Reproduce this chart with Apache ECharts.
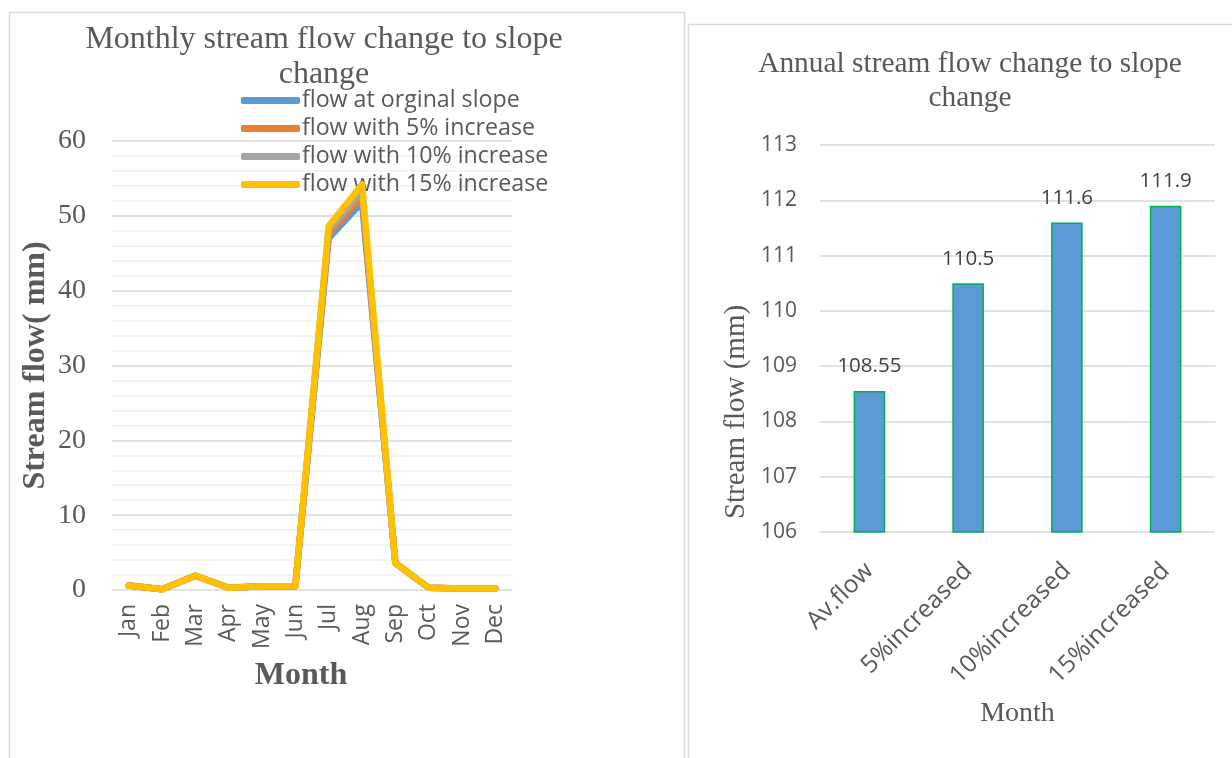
<!DOCTYPE html>
<html>
<head>
<meta charset="utf-8">
<script src="https://cdn.jsdelivr.net/npm/echarts@6/dist/echarts.min.js"></script>
<style>
  html, body { margin: 0; padding: 0; background: #ffffff; }
  #chart { width: 1232px; height: 758px; }
</style>
</head>
<body>
<div id="chart"></div>
<script>
// Monthly stream flow (mm) under the original slope and three slope increases
const months = ['Jan', 'Feb', 'Mar', 'Apr', 'May', 'Jun', 'Jul', 'Aug', 'Sep', 'Oct', 'Nov', 'Dec'];
const flowOriginal = [0.6, 0.1, 1.9, 0.3, 0.5, 0.5, 47.0, 51.8, 3.6, 0.3, 0.2, 0.2];
const flow5 = [0.6, 0.1, 1.9, 0.3, 0.5, 0.5, 47.6, 52.6, 3.6, 0.3, 0.2, 0.2];
const flow10 = [0.6, 0.1, 1.9, 0.3, 0.5, 0.5, 48.1, 53.4, 3.6, 0.3, 0.2, 0.2];
const flow15 = [0.6, 0.1, 1.9, 0.3, 0.5, 0.5, 48.6, 54.2, 3.6, 0.3, 0.2, 0.2];
const seriesNames = ['flow at orginal slope', 'flow with 5% increase', 'flow with 10% increase', 'flow with 15% increase'];

// Annual stream flow (mm)
const scenarios = ['Av.flow', '5%increased', '10%increased', '15%increased'];
const annualFlow = [108.55, 110.5, 111.6, 111.9];

const SERIF = '"Liberation Serif", "Times New Roman", serif';
const SANS = '"Open Sans", "Liberation Sans", sans-serif';
const TXT = '#595959';

const chart = echarts.init(document.getElementById('chart'), null, { renderer: 'canvas' });

const lineColors = ['#5B9BD5', '#ED7D31', '#A5A5A5', '#FFC000'];
const lineData = [flowOriginal, flow5, flow10, flow15];

chart.setOption({
  animation: false,
  backgroundColor: '#ffffff',
  graphic: [
    { type: 'rect', shape: { x: 9.5, y: 12.5, width: 675, height: 800 },
      style: { fill: 'none', stroke: '#D9D9D9', lineWidth: 1.5 }, silent: true, z: -1 },
    { type: 'rect', shape: { x: 688.5, y: 24.5, width: 600, height: 800 },
      style: { fill: 'none', stroke: '#D9D9D9', lineWidth: 1.5 }, silent: true, z: -1 },
    { type: 'text', x: 736, y: 412, rotation: Math.PI / 2,
      style: { text: 'Stream flow (mm)', font: '29px ' + SERIF, fill: TXT,
               textAlign: 'center', textVerticalAlign: 'middle' }, silent: true }
  ],
  title: [
    { text: 'Monthly stream flow change to slope\nchange', left: 319, top: 17, textAlign: 'center',
      textStyle: { fontFamily: SERIF, fontSize: 32, fontWeight: 'normal', color: TXT, lineHeight: 35 } },
    { text: 'Annual stream flow change to slope\nchange', left: 965, top: 42, textAlign: 'center',
      textStyle: { fontFamily: SERIF, fontSize: 29.4, fontWeight: 'normal', color: TXT, lineHeight: 34 } }
  ],
  legend: {
    data: seriesNames,
    orient: 'vertical',
    left: 236, top: 84,
    icon: 'roundRect',
    itemWidth: 59, itemHeight: 7,
    itemGap: 5,
    textStyle: { fontFamily: SANS, fontSize: 23.2, color: TXT, padding: [0, 0, 0, -3] }
  },
  grid: [
    { left: 112, right: 720, top: 141, bottom: 168 },
    { left: 820, right: 17, top: 145, bottom: 226 }
  ],
  xAxis: [
    { type: 'category', gridIndex: 0, data: months, boundaryGap: true,
      axisLine: { show: false }, axisTick: { show: false },
      axisLabel: { rotate: 90, fontFamily: SANS, fontSize: 23, color: TXT, margin: 14 },
      name: 'Month', nameLocation: 'middle', nameGap: 70,
      nameTextStyle: { fontFamily: SERIF, fontSize: 32, fontWeight: 'bold', color: TXT, padding: [0, 22, 0, 0] } },
    { type: 'category', gridIndex: 1, data: scenarios, boundaryGap: true,
      axisLine: { show: false }, axisTick: { show: false },
      axisLabel: { rotate: 45, fontFamily: SANS, fontSize: 24.5, color: TXT, margin: 35, interval: 0 },
      name: 'Month', nameLocation: 'middle', nameGap: 168,
      nameTextStyle: { fontFamily: SERIF, fontSize: 28, color: TXT } }
  ],
  yAxis: [
    { type: 'value', gridIndex: 0, min: 0, max: 60, interval: 10,
      axisLine: { show: false }, axisTick: { show: false },
      axisLabel: { fontFamily: SERIF, fontSize: 28, color: TXT, margin: 26 },
      splitLine: { lineStyle: { color: '#D9D9D9', width: 1.5 } },
      minorTick: { show: false, splitNumber: 5 },
      minorSplitLine: { show: true, lineStyle: { color: '#F0F0F0', width: 1.5 } },
      name: 'Stream flow( mm)', nameLocation: 'middle', nameGap: 60, nameRotate: 90,
      nameTextStyle: { fontFamily: SERIF, fontSize: 32, fontWeight: 'bold', color: TXT } },
    { type: 'value', gridIndex: 1, min: 106, max: 113, interval: 1,
      axisLine: { show: false }, axisTick: { show: false },
      axisLabel: { fontFamily: SANS, fontSize: 21, color: TXT, margin: 23 },
      splitLine: { lineStyle: { color: '#D9D9D9', width: 1.5 } } }
  ],
  series: lineData.map((d, i) => ({
    name: seriesNames[i], type: 'line', xAxisIndex: 0, yAxisIndex: 0,
    data: d, symbol: 'none', color: lineColors[i],
    lineStyle: { width: 6.5, color: lineColors[i], cap: 'round', join: 'round' },
    z: 2 + i
  })).concat([{
    name: 'annual', type: 'bar', xAxisIndex: 1, yAxisIndex: 1,
    data: annualFlow, barWidth: '32%',
    itemStyle: { color: '#5B9BD5', borderColor: '#00B050', borderWidth: 1.5 },
    label: { show: true, position: 'top', distance: 14, fontFamily: SANS, fontSize: 20.5, color: '#404040',
             formatter: p => String(p.value) }
  }])
});
</script>
</body>
</html>
